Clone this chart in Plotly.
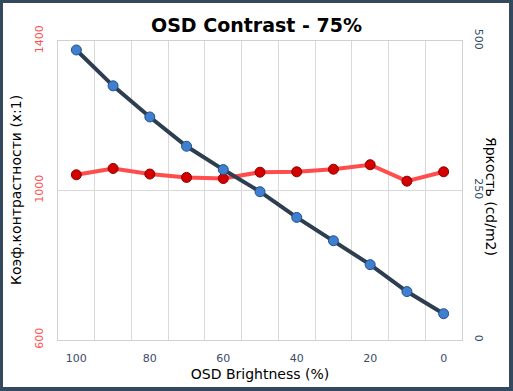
import plotly.graph_objects as go

brightness_pct = [100, 90, 80, 70, 60, 50, 40, 30, 20, 10, 0]
contrast = [1042, 1059, 1044, 1035, 1032, 1049, 1050, 1057, 1069, 1025, 1050]
luminance = [485, 425, 373, 324, 285, 248, 205, 166, 126, 81, 44]
x_tick_vals = [100, 80, 60, 40, 20, 0]
x_grid_vals = [95, 85, 75, 65, 55, 45, 35, 25, 15, 5]
left_ticks = [600, 1000, 1400]
right_ticks = [0, 250, 500]

FONT = "DejaVu Sans"
BORDER = "#34495e"

fig = go.Figure()
fig.add_trace(go.Scatter(
    x=brightness_pct, y=contrast, mode="lines+markers", yaxis="y",
    line=dict(color="#ff4d4d", width=4),
    marker=dict(size=10, color="#d40000", line=dict(color="#8a0000", width=1)),
    showlegend=False))
fig.add_trace(go.Scatter(
    x=brightness_pct, y=luminance, mode="lines+markers", yaxis="y2",
    line=dict(color="#2c3e50", width=4),
    marker=dict(size=10, color="#3f7fcf", line=dict(color="#24508a", width=1)),
    showlegend=False))

fig.update_layout(
    width=513, height=391,
    margin=dict(l=58, r=51, t=41, b=51),
    paper_bgcolor=BORDER, plot_bgcolor="white",
    font=dict(family=FONT, color="black"),
    title=dict(text="<b>OSD Contrast - 75%</b>", x=0.5, xanchor="center",
               y=1 - 25 / 391, yanchor="middle",
               font=dict(size=19, family=FONT, color="black")),
    xaxis=dict(range=[105, -5], tickvals=x_tick_vals, showgrid=False,
               tickfont=dict(size=11, color="#3c4a66"), ticks="", ticklabelstandoff=8,
               showline=True, linecolor="#d0d0d0", mirror=True, zeroline=False,
               minor=dict(tickvals=x_grid_vals, showgrid=True, gridcolor="#d9d9d9", gridwidth=1),
               title=dict(text="OSD Brightness (%)", font=dict(size=14, color="black"), standoff=4)),
    yaxis=dict(range=[600, 1400], tickvals=left_ticks, tickangle=-90,
               tickfont=dict(size=11, color="#ff5050"), showgrid=True, gridcolor="#d9d9d9",
               zeroline=False, showline=True, linecolor="#d0d0d0", mirror=True,
               ticks="", ticklabelstandoff=10),
    yaxis2=dict(range=[0, 500], tickvals=right_ticks, tickangle=90, overlaying="y", side="right",
                tickfont=dict(size=11, color="#2d4a63"), showgrid=False, zeroline=False,
                ticks="", ticklabelstandoff=10),
    shapes=[dict(type="rect", xref="paper", yref="paper", layer="below",
                 x0=(3 - 58) / 404, x1=(509 - 58) / 404,
                 y0=(340 - 387) / 299, y1=(340 - 3) / 299,
                 fillcolor="white", line=dict(width=0))],
    annotations=[
        dict(text="Коэф.контрастности (x:1)", xref="paper", yref="paper",
             x=(16 - 58) / 404, y=(340 - 190) / 299, textangle=-90, showarrow=False,
             xanchor="center", yanchor="middle", font=dict(size=14, color="black")),
        dict(text="Яркость (cd/m2)", xref="paper", yref="paper",
             x=(491 - 58) / 404, y=(340 - 196) / 299, textangle=90, showarrow=False,
             xanchor="center", yanchor="middle", font=dict(size=14, color="black")),
    ],
)

fig.write_html("out.html", config={"displayModeBar": False},
               post_script="document.body.style.margin='0';")
